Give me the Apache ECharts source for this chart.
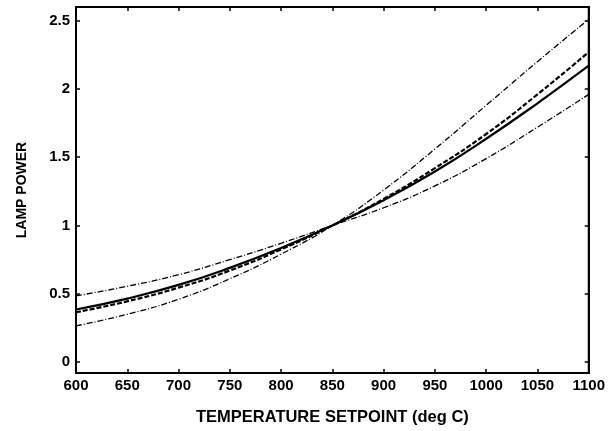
<!DOCTYPE html>
<html>
<head>
<meta charset="utf-8">
<script src="https://cdn.jsdelivr.net/npm/echarts@6/dist/echarts.min.js"></script>
<style>html,body{margin:0;padding:0;background:#fff}#c{width:608px;height:431px}</style>
</head>
<body>
<div id="c"></div>
<script>
const temps = [600, 650, 700, 750, 800, 850, 900, 950, 1000, 1050, 1100];
const steepDashDot = [0.265, 0.35, 0.46, 0.61, 0.79, 1.0, 1.26, 1.56, 1.88, 2.20, 2.51];
const dashedThick = [0.365, 0.445, 0.545, 0.67, 0.825, 1.0, 1.195, 1.42, 1.67, 1.96, 2.27];
const solidThick = [0.385, 0.465, 0.565, 0.69, 0.835, 1.0, 1.185, 1.395, 1.635, 1.895, 2.17];
const flatDashDot = [0.485, 0.555, 0.64, 0.75, 0.87, 1.0, 1.13, 1.29, 1.49, 1.72, 1.96];
const yTicks = [0, 0.5, 1, 1.5, 2, 2.5];

const tickFont = {fontFamily: 'Liberation Sans', fontWeight: 'bold', fontSize: 15, color: '#000'};
function pts(arr){ return temps.map((t,i)=>[t, arr[i]]); }
function ser(arr, type, width){
  return {type:'line', data: pts(arr), smooth: true, symbol:'none', xAxisIndex:0, yAxisIndex:0,
    lineStyle:{color:'#000', width:width, type:type}};
}
const chart = echarts.init(document.getElementById('c'), null, {renderer:'canvas'});
chart.setOption({
  animation:false,
  backgroundColor:'#fff',
  grid:{left:76, right:19, top:7, bottom:58, show:true, borderColor:'#000', borderWidth:2, backgroundColor:'transparent'},
  xAxis:[{
    type:'value', min:600, max:1100, interval:50,
    name:'TEMPERATURE SETPOINT (deg C)', nameLocation:'middle', nameGap:36,
    nameTextStyle:{fontFamily:'Liberation Sans', fontWeight:'bold', fontSize:16.5, color:'#000'},
    axisLine:{show:true, onZero:false, lineStyle:{color:'#000', width:2}},
    axisTick:{show:true, inside:true, length:4, lineStyle:{color:'#000', width:1.5}},
    axisLabel:Object.assign({margin:5, formatter:(v)=>String(v)}, tickFont),
    splitLine:{show:false}
  },{
    type:'value', position:'top', min:600, max:1100, interval:50,
    axisLine:{show:true, onZero:false, lineStyle:{color:'#000', width:2}},
    axisTick:{show:true, inside:true, length:4, lineStyle:{color:'#000', width:1.5}},
    axisLabel:{show:false}, splitLine:{show:false}
  }],
  yAxis:[{
    type:'value', min:-0.08, max:2.6,
    name:'LAMP POWER', nameLocation:'middle', nameGap:47, nameRotate:90,
    nameTextStyle:{fontFamily:'Liberation Sans', fontWeight:'bold', fontSize:14, color:'#000'},
    axisLine:{show:true, onZero:false, lineStyle:{color:'#000', width:2}},
    axisTick:{show:true, inside:true, length:4, customValues:yTicks, lineStyle:{color:'#000', width:1.5}},
    axisLabel:Object.assign({margin:6, customValues:yTicks}, tickFont),
    splitLine:{show:false}
  },{
    type:'value', position:'right', min:-0.08, max:2.6,
    axisLine:{show:true, onZero:false, lineStyle:{color:'#000', width:2}},
    axisTick:{show:true, inside:true, length:4, customValues:yTicks, lineStyle:{color:'#000', width:1.5}},
    axisLabel:{show:false}, splitLine:{show:false}
  }],
  series:[
    ser(steepDashDot, [6,2,1,2], 1.3),
    ser(dashedThick, [5,2], 2.2),
    ser(solidThick, 'solid', 2.2),
    ser(flatDashDot, [6,2,1,2], 1.3)
  ]
});
</script>
</body>
</html>
